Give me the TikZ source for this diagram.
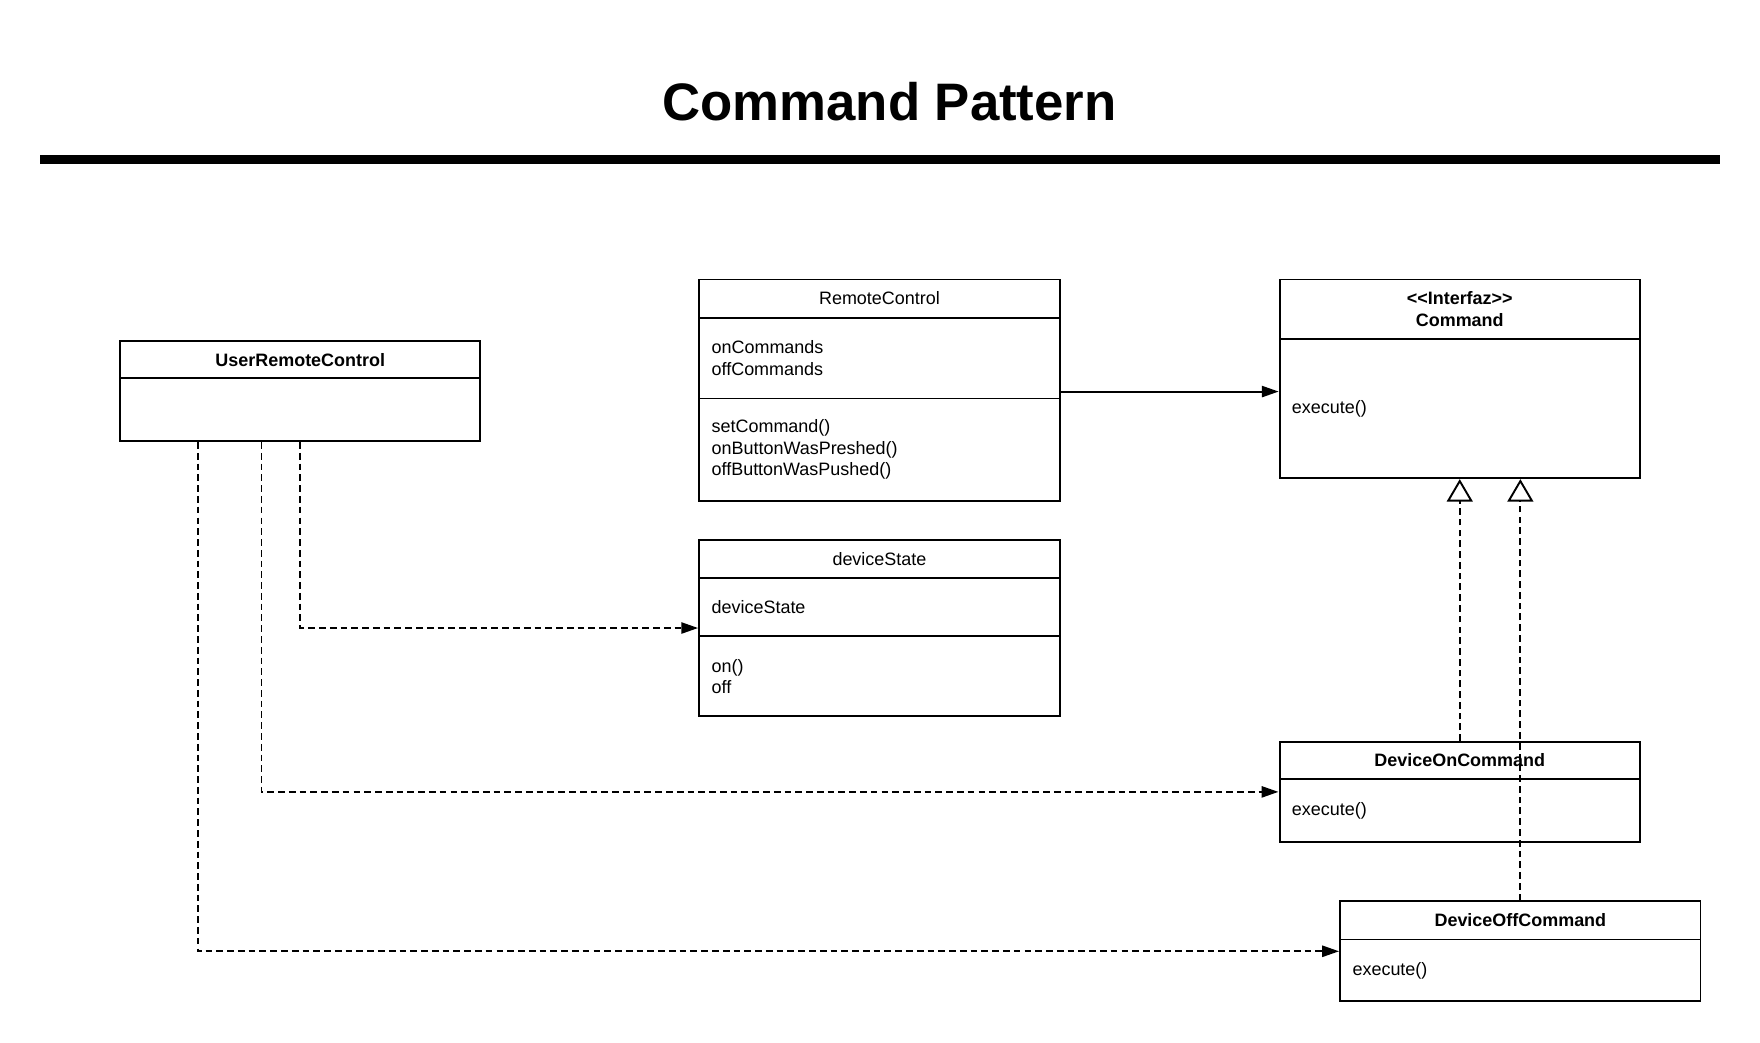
\documentclass[tikz,border=0pt]{standalone}
\usepackage{fontspec}
\setmainfont{Liberation Sans}
\usetikzlibrary{arrows.meta,fit}

\tikzset{
  umlhead/.style={draw,rectangle,line width=1.7pt,text width=299pt,inner xsep=11pt,inner ysep=0pt,align=center,font=\fontsize{16}{19}\selectfont},
  umlbold/.style={umlhead,font=\fontsize{16}{19}\selectfont\bfseries},
  umlpart/.style={umlhead,align=left},
  assoc/.style={line width=1.7pt,-{Triangle[length=15pt,width=10pt]}},
  dep/.style={assoc,dash pattern=on 6pt off 3.6pt},
  real/.style={line width=1.7pt,dash pattern=on 6pt off 3.6pt,-{Triangle[open,fill=white,length=20pt,width=23pt]}}
}

\begin{document}
\begin{tikzpicture}[x=1pt,y=-1pt]
                \useasboundingbox (0,0) rectangle (1568,928.5);

                \node[font=\fontsize{47}{56}\selectfont\bfseries] (title) at (792.5,91) {Command Pattern};
                \draw[line width=8pt] (36,142) -- (1532,142);

                % UserRemoteControl
                \node[umlbold,minimum height=33pt] (URC) at (267.5,320.5) {UserRemoteControl};
                \node[umlpart,minimum height=56pt] (URCb) at (267.5,365) {};

                % RemoteControl
                \node[umlhead,minimum height=34pt] (RC) at (783.5,266) {RemoteControl};
                \node[umlpart,minimum height=72pt] (RCa) at (783.5,319) {onCommands\\offCommands};
                \node[umlpart,minimum height=91pt] (RCm) at (783.5,400.5) {setCommand()\\onButtonWasPreshed()\\offButtonWasPushed()};

                % Command
                \node[umlbold,minimum height=53pt] (CMD) at (1300.5,275.5) {{<}{<}Interfaz{>}{>}\\Command};
                \node[umlpart,minimum height=124pt] (CMDb) at (1300.5,364) {execute()};

                % deviceState
                \node[umlhead,minimum height=34pt] (DS) at (783.5,498) {deviceState};
                \node[umlpart,minimum height=52pt] (DSa) at (783.5,541) {deviceState};
                \node[umlpart,minimum height=71pt] (DSm) at (783.5,602.5) {on()\\off};
                \node[fit=(DS)(DSm),inner sep=0pt] (DSbox) {};

                % DeviceOnCommand
                \node[umlbold,minimum height=33pt] (DON) at (1300.5,677.5) {DeviceOnCommand};
                \node[umlpart,minimum height=56pt] (DONb) at (1300.5,722) {execute()};
                \node[fit=(DON)(DONb),inner sep=0pt] (DONbox) {};

                % DeviceOffCommand
                \node[umlbold,minimum height=34pt] (DOFF) at (1354.5,820) {DeviceOffCommand};
                \node[umlpart,minimum height=55pt] (DOFFb) at (1354.5,864.5) {execute()};
                \node[fit=(DOFF)(DOFFb),inner sep=0pt] (DOFFbox) {};

                \coordinate (rcout) at ([yshift=7pt]RCa.south east);
                \draw[assoc] (rcout) -- (rcout -| CMDb.west);

                \draw[dep] (URCb.south) |- (DSbox.west);
                \draw[dep] ([xshift=-34.5pt]URCb.south) |- (DONbox.west);
                \draw[dep] ([xshift=-91.5pt]URCb.south) |- (DOFFbox.west);

                \draw[real] (DON.north) -- (CMDb.south);
                \draw[real] (DOFF.north) -- (DOFF.north |- CMDb.south);
            \end{tikzpicture}
\end{document}
